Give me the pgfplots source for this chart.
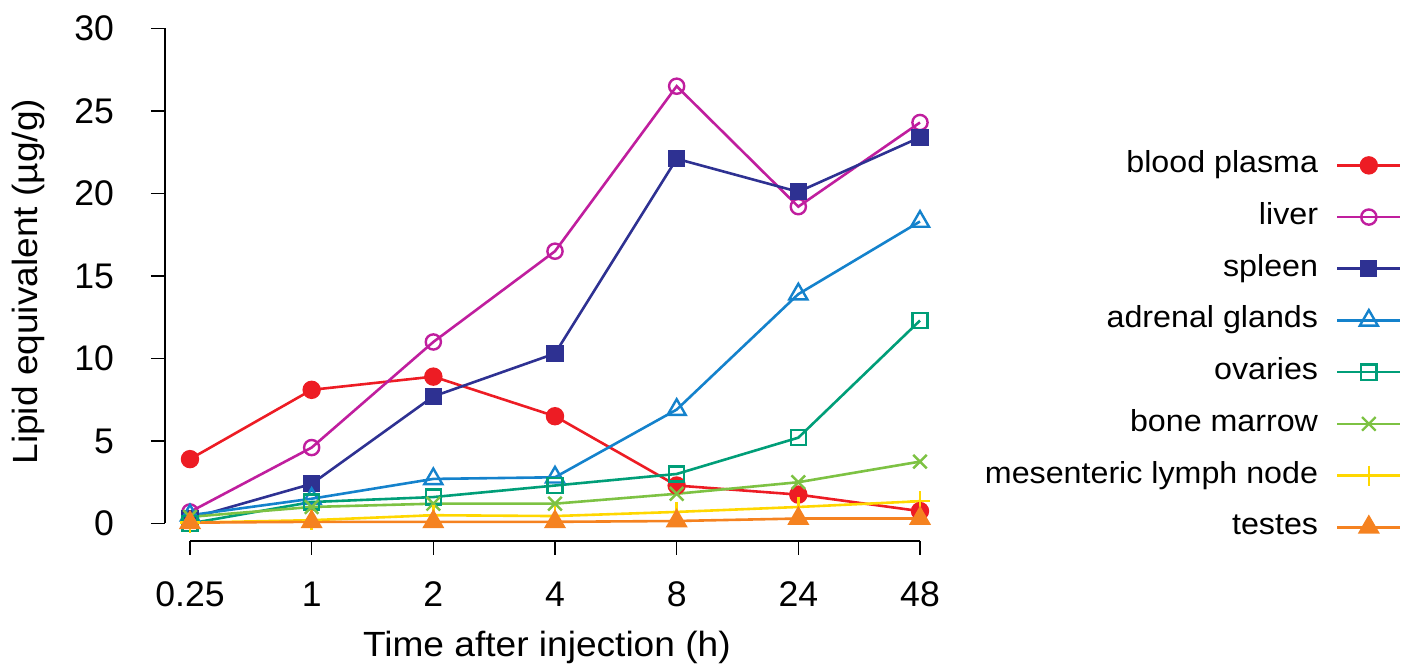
\documentclass[border=0pt]{standalone}
\usepackage{pgfplots}
\pgfplotsset{compat=1.18}
\usepackage{fontspec}
\setmainfont{Liberation Sans}
\newfontfamily\stretchfont[FakeStretch=1.06]{Liberation Sans}
\definecolor{cplasma}{RGB}{237,28,36}
\definecolor{cliver}{RGB}{192,30,158}
\definecolor{cspleen}{RGB}{46,49,146}
\definecolor{cadrenal}{RGB}{20,130,204}
\definecolor{covaries}{RGB}{0,158,120}
\definecolor{cmarrow}{RGB}{125,194,67}
\definecolor{clymph}{RGB}{255,215,0}
\definecolor{ctestes}{RGB}{245,130,32}
\begin{document}
\begin{tikzpicture}
\begin{axis}[
 name=main,
 scale only axis, width=389.7pt, height=260.4pt,
 xmin=-0.2055, xmax=6.2, ymin=-1.06, ymax=30.5,
 clip=false,
 axis x line*=bottom, axis y line*=left,
 axis line style={draw=none,-},
 xtick={0,...,6}, xticklabels={0.25,1,2,4,8,24,48},
 ytick={0,5,...,30},
 tick align=outside, major tick length=7pt,
 tick style={black, line width=0.8pt},
 /pgf/number format/assume math mode=true,
 ticklabel style={font=\fontsize{17.8}{20}\selectfont},
 yticklabel style={xshift=-15pt},
 xticklabel style={yshift=-10pt},
 xlabel={Time after injection (h)},
 ylabel={Lipid equivalent (µg/g)},
 xlabel style={font=\stretchfont\fontsize{17.5}{20}\selectfont, at={(axis description cs:0.490,-0.2222)}, anchor=base},
 ylabel style={font=\stretchfont\fontsize{17.5}{20}\selectfont, at={(axis description cs:-0.163,0.498)}, anchor=base},
 every axis plot/.append style={line width=1.3pt, mark options={solid, line width=1.2pt}},
 legend plot pos=right,
 legend cell align=right,
 legend image code/.code={\draw[mark repeat=2,mark phase=2] plot coordinates {(0pt,0pt) (15.75pt,0pt) (31.5pt,0pt)};},
 legend style={at={(1.5873,0.3738)}, anchor=east, draw=none, fill=none, inner sep=0pt,
   font=\stretchfont\fontsize{15.2}{18}\selectfont, row sep=7.35pt,
   nodes={text height=11pt, text depth=3.5pt},
   /tikz/every even column/.append style={column sep=7pt},
   /tikz/every odd column/.append style={column sep=7pt}},
]
\draw[line width=0.8pt] (axis cs:0,-1.06) -- (axis cs:6,-1.06);
\draw[line width=0.8pt] (axis cs:-0.2055,0) -- (axis cs:-0.2055,30);
\addplot[color=cplasma, mark=*, mark size=4pt] coordinates {(0,3.9) (1,8.1) (2,8.9) (3,6.5) (4,2.3) (5,1.75) (6,0.75)};
\addlegendentry{blood plasma}
\addplot[color=cliver, mark=o, mark size=3.8pt] coordinates {(0,0.7) (1,4.6) (2,11.0) (3,16.5) (4,26.5) (5,19.2) (6,24.3)};
\addlegendentry{liver}
\addplot[color=cspleen, mark=square*, mark size=3.7pt] coordinates {(0,0.3) (1,2.4) (2,7.7) (3,10.3) (4,22.1) (5,20.1) (6,23.4)};
\addlegendentry{spleen}
\addplot[color=cadrenal, mark=triangle, mark size=5.2pt] coordinates {(0,0.5) (1,1.5) (2,2.7) (3,2.8) (4,6.9) (5,13.9) (6,18.3)};
\addlegendentry{adrenal glands}
\addplot[color=covaries, mark=square, mark size=3.8pt] coordinates {(0,0.0) (1,1.3) (2,1.6) (3,2.3) (4,3.0) (5,5.2) (6,12.3)};
\addlegendentry{ovaries}
\addplot[color=cmarrow, mark=x, mark size=4.8pt] coordinates {(0,0.4) (1,1.0) (2,1.2) (3,1.2) (4,1.8) (5,2.5) (6,3.75)};
\addlegendentry{bone marrow}
\addplot[color=clymph, mark=+, mark size=5pt] coordinates {(0,0.05) (1,0.2) (2,0.5) (3,0.45) (4,0.7) (5,1.0) (6,1.35)};
\addlegendentry{mesenteric lymph node}
\addplot[color=ctestes, mark=triangle*, mark size=5.2pt] coordinates {(0,0.05) (1,0.1) (2,0.1) (3,0.1) (4,0.15) (5,0.3) (6,0.3)};
\addlegendentry{testes}
\end{axis}
\pgfresetboundingbox
\path[use as bounding box] ([shift={(-82.5pt,-64.5pt)}]main.south west) rectangle ([shift={(236.85pt,10.1pt)}]main.north east);
\end{tikzpicture}
\end{document}
